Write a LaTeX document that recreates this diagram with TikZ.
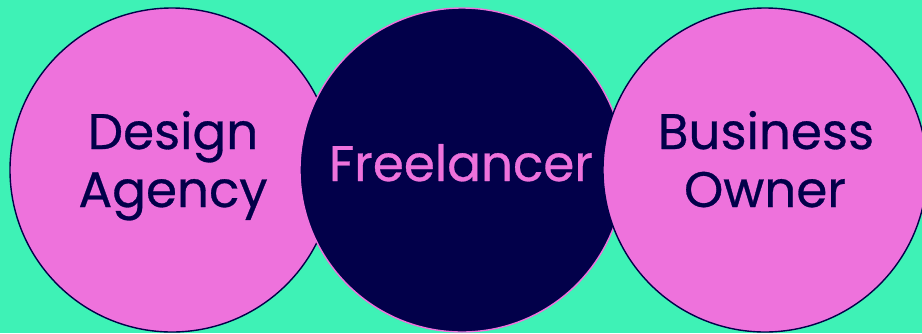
\documentclass[tikz,border=0pt]{standalone}
\usepackage{fontspec}
\setmainfont{Poppins}
\newfontfamily\lblfont{Poppins}[BoldFont={Poppins}, BoldFeatures={FakeBold=0.6}]
\definecolor{bgG}{HTML}{3EF2B6}
\definecolor{pinkC}{HTML}{EE72DC}
\definecolor{navyC}{HTML}{02004A}
\tikzset{
  bubble/.style={circle, minimum size=324pt, inner sep=0pt, line width=1.4pt},
  pinkbub/.style={bubble, fill=pinkC, draw=navyC},
  navybub/.style={bubble, fill=navyC, draw=pinkC},
  lbl/.style={anchor=base, inner sep=0pt, font=\lblfont\bfseries\fontsize{50}{60}\selectfont},
}
\begin{document}
\begin{tikzpicture}[x=1pt,y=-1pt]
\fill[bgG] (0,0) rectangle (922,333);
\useasboundingbox (0,0) rectangle (922,333);
\node[pinkbub] (agency) at (172,170) {};
\node[navybub] (free) at (462,170) {};
\node[pinkbub] (owner) at (765,170) {};
\node[lbl, text=navyC] (t1) at (173,149) {Design};
\node[lbl, text=navyC] (t2) at (173,207) {Agency};
\node[lbl, text=pinkC] (t3) at (461,181) {Freelancer};
\node[lbl, text=navyC] (t4) at (766,149) {Business};
\node[lbl, text=navyC] (t5) at (765,207) {Owner};
\end{tikzpicture}
\end{document}
